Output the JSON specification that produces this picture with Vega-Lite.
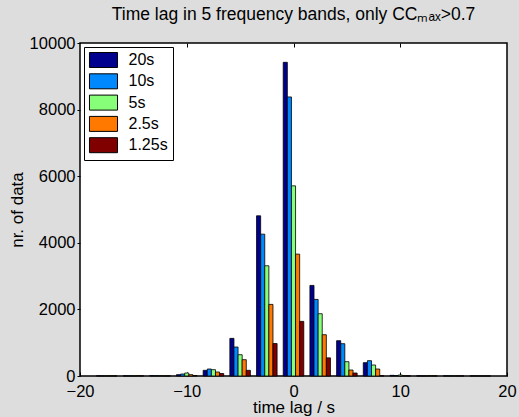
{
  "$schema": "https://vega.github.io/schema/vega-lite/v6.json",
  "width": 427,
  "height": 333,
  "autosize": {"type": "none"},
  "padding": {"left": 80, "top": 43, "right": 12, "bottom": 41},
  "background": "#dddddd",
  "config": {
    "font": "Liberation Sans",
    "view": {"fill": "white", "stroke": "black", "strokeWidth": 1.5},
    "axis": {"labelColor": "black", "titleColor": "black", "tickColor": "black", "domain": false, "grid": false, "labelFont": "Liberation Sans", "titleFont": "Liberation Sans", "titleFontWeight": "normal"}
  },
  "title": {"text": "Time lag in 5 frequency bands, only CCₘₐₓ>0.7", "fontSize": 17.5, "font": "Liberation Sans", "fontWeight": "normal", "color": "black", "anchor": "middle", "offset": 12},
  "data": {"values": [
    {"lag": -17.5, "band": "20s", "count": 5}, {"lag": -17.5, "band": "10s", "count": 3}, {"lag": -17.5, "band": "5s", "count": 8}, {"lag": -17.5, "band": "2.5s", "count": 6}, {"lag": -17.5, "band": "1.25s", "count": 4},
    {"lag": -15, "band": "20s", "count": 5}, {"lag": -15, "band": "10s", "count": 5}, {"lag": -15, "band": "5s", "count": 5}, {"lag": -15, "band": "2.5s", "count": 10}, {"lag": -15, "band": "1.25s", "count": 5},
    {"lag": -12.5, "band": "20s", "count": 10}, {"lag": -12.5, "band": "10s", "count": 8}, {"lag": -12.5, "band": "5s", "count": 10}, {"lag": -12.5, "band": "2.5s", "count": 5}, {"lag": -12.5, "band": "1.25s", "count": 5},
    {"lag": -10, "band": "20s", "count": 40}, {"lag": -10, "band": "10s", "count": 60}, {"lag": -10, "band": "5s", "count": 90}, {"lag": -10, "band": "2.5s", "count": 40}, {"lag": -10, "band": "1.25s", "count": 15},
    {"lag": -7.5, "band": "20s", "count": 170}, {"lag": -7.5, "band": "10s", "count": 210}, {"lag": -7.5, "band": "5s", "count": 190}, {"lag": -7.5, "band": "2.5s", "count": 120}, {"lag": -7.5, "band": "1.25s", "count": 75},
    {"lag": -5, "band": "20s", "count": 1130}, {"lag": -5, "band": "10s", "count": 870}, {"lag": -5, "band": "5s", "count": 640}, {"lag": -5, "band": "2.5s", "count": 490}, {"lag": -5, "band": "1.25s", "count": 170},
    {"lag": -2.5, "band": "20s", "count": 4810}, {"lag": -2.5, "band": "10s", "count": 4260}, {"lag": -2.5, "band": "5s", "count": 3310}, {"lag": -2.5, "band": "2.5s", "count": 2150}, {"lag": -2.5, "band": "1.25s", "count": 975},
    {"lag": 0, "band": "20s", "count": 9420}, {"lag": 0, "band": "10s", "count": 8380}, {"lag": 0, "band": "5s", "count": 5710}, {"lag": 0, "band": "2.5s", "count": 3660}, {"lag": 0, "band": "1.25s", "count": 1640},
    {"lag": 2.5, "band": "20s", "count": 2720}, {"lag": 2.5, "band": "10s", "count": 2300}, {"lag": 2.5, "band": "5s", "count": 1870}, {"lag": 2.5, "band": "2.5s", "count": 1240}, {"lag": 2.5, "band": "1.25s", "count": 545},
    {"lag": 5, "band": "20s", "count": 1060}, {"lag": 5, "band": "10s", "count": 970}, {"lag": 5, "band": "5s", "count": 430}, {"lag": 5, "band": "2.5s", "count": 180}, {"lag": 5, "band": "1.25s", "count": 90},
    {"lag": 7.5, "band": "20s", "count": 400}, {"lag": 7.5, "band": "10s", "count": 460}, {"lag": 7.5, "band": "5s", "count": 330}, {"lag": 7.5, "band": "2.5s", "count": 210}, {"lag": 7.5, "band": "1.25s", "count": 10},
    {"lag": 10, "band": "20s", "count": 20}, {"lag": 10, "band": "10s", "count": 15}, {"lag": 10, "band": "5s", "count": 30}, {"lag": 10, "band": "2.5s", "count": 10}, {"lag": 10, "band": "1.25s", "count": 5},
    {"lag": 12.5, "band": "20s", "count": 5}, {"lag": 12.5, "band": "10s", "count": 3}, {"lag": 12.5, "band": "5s", "count": 5}, {"lag": 12.5, "band": "2.5s", "count": 8}, {"lag": 12.5, "band": "1.25s", "count": 3},
    {"lag": 15, "band": "20s", "count": 5}, {"lag": 15, "band": "10s", "count": 5}, {"lag": 15, "band": "5s", "count": 8}, {"lag": 15, "band": "2.5s", "count": 5}, {"lag": 15, "band": "1.25s", "count": 3},
    {"lag": 17.5, "band": "20s", "count": 3}, {"lag": 17.5, "band": "10s", "count": 5}, {"lag": 17.5, "band": "5s", "count": 3}, {"lag": 17.5, "band": "2.5s", "count": 3}, {"lag": 17.5, "band": "1.25s", "count": 2}
  ]},
  "layer": [
    {
      "mark": {"type": "bar", "stroke": "black", "strokeWidth": 0.8},
      "encoding": {
        "x": {"field": "lag", "type": "ordinal", "scale": {"type": "band", "domain": [-17.5, -15, -12.5, -10, -7.5, -5, -2.5, 0, 2.5, 5, 7.5, 10, 12.5, 15, 17.5], "paddingInner": 0.23, "paddingOuter": 0.615}, "axis": null},
        "xOffset": {"field": "band", "type": "nominal", "scale": {"domain": ["20s", "10s", "5s", "2.5s", "1.25s"], "paddingInner": 0, "paddingOuter": 0}},
        "y": {"field": "count", "type": "quantitative", "scale": {"domain": [0, 10000], "nice": false},
              "axis": {"values": [0, 2000, 4000, 6000, 8000, 10000], "format": "d", "title": "nr. of data", "titleFontSize": 17, "labelFontSize": 16.5, "tickSize": 3, "labelPadding": 2, "titlePadding": 3}},
        "color": {"field": "band", "type": "nominal", "scale": {"domain": ["20s", "10s", "5s", "2.5s", "1.25s"], "range": ["#00008f", "#0088ff", "#88ff78", "#ff7800", "#800000"]},
                  "legend": {"orient": "top-left", "offset": 3.5, "title": null, "fillColor": "white", "strokeColor": "black", "padding": 5, "labelFontSize": 16, "labelColor": "black", "labelOffset": 17, "rowPadding": 1.3, "symbolType": "M-1.87,-1L1.87,-1L1.87,1L-1.87,1Z", "symbolSize": 225, "symbolOffset": 6.5, "symbolStrokeColor": "black", "symbolStrokeWidth": 1, "symbolOpacity": 1}}
      }
    },
    {
      "mark": {"type": "point", "opacity": 0},
      "encoding": {
        "x": {"field": "lag", "type": "quantitative", "scale": {"domain": [-20, 20], "nice": false},
              "axis": {"orient": "bottom", "values": [-20, -10, 0, 10, 20], "title": "time lag / s", "titleFontSize": 17, "labelFontSize": 16.5, "tickSize": -4, "labelPadding": 11, "titlePadding": 0, "labelFlush": false}},
        "y": {"field": "count", "type": "quantitative"}
      }
    },
    {
      "mark": {"type": "point", "opacity": 0},
      "encoding": {
        "x": {"field": "lag", "type": "quantitative", "scale": {"domain": [-20, 20], "nice": false},
              "axis": {"orient": "top", "values": [-10, 0, 10], "title": null, "labels": false, "tickSize": -4}},
        "y": {"field": "count", "type": "quantitative"}
      }
    }
  ],
  "resolve": {"scale": {"x": "independent"}, "axis": {"x": "independent"}}
}
